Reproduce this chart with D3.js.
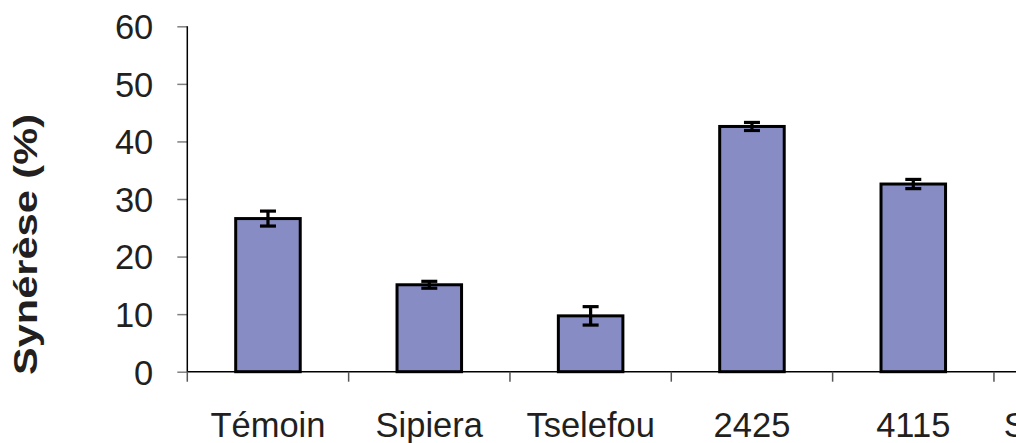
<!DOCTYPE html>
<html>
<head>
<meta charset="utf-8">
<script src="https://cdn.jsdelivr.net/npm/d3@7"></script>
<style>
  html, body { margin: 0; padding: 0; background: #fff; overflow: hidden; }
  svg { display: block; font-family: "Liberation Sans", Arial, sans-serif; }
</style>
</head>
<body>
<svg id="chart" width="1016" height="443"></svg>
<script>
// Syneresis per treatment (mean and error)
const categories = ["Témoin", "Sipiera", "Tselefou", "2425", "4115", "Sélection"];
const values     = [26.6, 15.1, 9.7, 42.6, 32.6, null];
const errors     = [1.3, 0.6, 1.6, 0.7, 0.8, null];
const yTicks     = [0, 10, 20, 30, 40, 50, 60];
const yTitle     = "Synérèse (%)";

const data = categories.map((c, i) => ({ cat: c, value: values[i], err: errors[i] }));

const svg = d3.select("#chart");
const plotLeft = 187.3, plotTop = 26.3, plotBottom = 371.7;
const step = 161.33;
const plotRight = plotLeft + step * categories.length;

const x = d3.scaleBand()
  .domain(categories)
  .range([plotLeft, plotRight])
  .paddingInner(0.6)
  .paddingOuter(0.3);

const y = d3.scaleLinear().domain([0, 60]).range([plotBottom, plotTop]);

const textColor = "#231f20";

// Y axis: gray ticks on the left, black spine
const yAxis = svg.append("g")
  .attr("transform", `translate(${plotLeft},0)`)
  .call(d3.axisLeft(y).tickValues(yTicks).tickSize(10).tickSizeOuter(0).tickPadding(24));
yAxis.select(".domain").remove();
yAxis.selectAll(".tick line").attr("stroke", "#808080").attr("stroke-width", 1.5);
yAxis.selectAll(".tick text")
  .attr("fill", textColor)
  .attr("font-size", 34.5)
  .attr("font-family", "Liberation Sans, Arial, sans-serif")
  .attr("dy", "0.36em");

svg.append("line")
  .attr("x1", plotLeft).attr("x2", plotLeft)
  .attr("y1", y(60)).attr("y2", y(0))
  .attr("stroke", "#000").attr("stroke-width", 1.5);

// X axis baseline
svg.append("line")
  .attr("x1", plotLeft).attr("x2", 1016)
  .attr("y1", y(0)).attr("y2", y(0))
  .attr("stroke", "#000").attr("stroke-width", 1.5);

// Category boundary ticks
const gap = (x.step() - x.bandwidth()) / 2;
const boundaries = categories.map(c => x(c) - gap);
svg.append("g").selectAll("line")
  .data(boundaries)
  .join("line")
  .attr("x1", d => d).attr("x2", d => d)
  .attr("y1", y(0)).attr("y2", y(0) + 10)
  .attr("stroke", "#555").attr("stroke-width", 1.5);

// Category labels
svg.append("g").selectAll("text")
  .data(data)
  .join("text")
  .attr("x", d => x(d.cat) + x.bandwidth() / 2)
  .attr("y", 437)
  .attr("text-anchor", "middle")
  .attr("font-size", 34.5)
  .attr("fill", textColor)
  .text(d => d.cat);

// Bars
const shown = data.filter(d => d.value != null);
svg.append("g").selectAll("rect")
  .data(shown)
  .join("rect")
  .attr("x", d => x(d.cat))
  .attr("y", d => y(d.value))
  .attr("width", x.bandwidth())
  .attr("height", d => y(0) - y(d.value))
  .attr("fill", "#878dc4")
  .attr("stroke", "#000")
  .attr("stroke-width", 3);

// Error bars
const eb = svg.append("g").selectAll("g")
  .data(shown)
  .join("g")
  .attr("stroke", "#000")
  .attr("stroke-width", 3.2);
eb.append("line")
  .attr("x1", d => x(d.cat) + x.bandwidth() / 2)
  .attr("x2", d => x(d.cat) + x.bandwidth() / 2)
  .attr("y1", d => y(d.value + d.err))
  .attr("y2", d => y(d.value - d.err));
[1, -1].forEach(s => {
  eb.append("line")
    .attr("x1", d => x(d.cat) + x.bandwidth() / 2 - 8)
    .attr("x2", d => x(d.cat) + x.bandwidth() / 2 + 8)
    .attr("y1", d => y(d.value + s * d.err))
    .attr("y2", d => y(d.value + s * d.err));
});

// Y axis title
svg.append("text")
  .attr("transform", `translate(37,${(114 + 375) / 2}) rotate(-90)`)
  .attr("text-anchor", "middle")
  .attr("font-size", 33)
  .attr("font-weight", "bold")
  .attr("fill", textColor)
  .attr("textLength", 261)
  .attr("lengthAdjust", "spacingAndGlyphs")
  .text(yTitle);
</script>
</body>
</html>
